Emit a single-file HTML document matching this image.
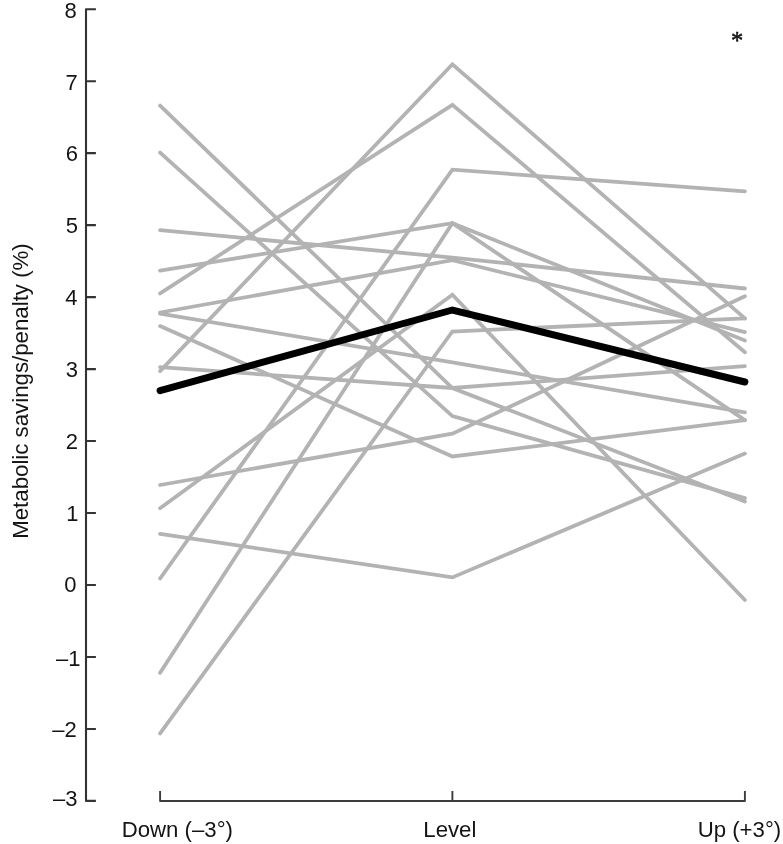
<!DOCTYPE html>
<html lang="en">
<head>
<meta charset="utf-8">
<title>Metabolic savings/penalty by slope</title>
<style>
html,body{margin:0;padding:0;background:#fff;}
body{width:783px;height:844px;overflow:hidden;}
svg{display:block;}
text{font-family:"Liberation Sans",sans-serif;fill:#141414;}
.g{fill:none;stroke:#b3b3b3;stroke-width:3.8;stroke-linecap:round;stroke-linejoin:miter;stroke-miterlimit:10;}
.k{fill:none;stroke:#000;stroke-width:7;stroke-linecap:round;stroke-linejoin:miter;stroke-miterlimit:10;}
.ax{fill:none;stroke:#333;stroke-width:2.1;stroke-linecap:butt;stroke-linejoin:round;}
.ax2{fill:none;stroke:#3c3c3c;stroke-width:1.9;stroke-linecap:butt;stroke-linejoin:round;}
</style>
</head>
<body>
<svg width="783" height="844" viewBox="0 0 783 844">
<rect x="0" y="0" width="783" height="844" fill="#fff"/>

<g class="g">
<polyline points="160.1,371.1 452.4,64.3 744.9,318.4"/>
<polyline points="160.1,293.4 452.4,104.8 744.9,352.3"/>
<polyline points="160.1,578.5 452.4,169.7 744.9,191.3"/>
<polyline points="160.1,672.8 452.4,223.2 744.9,420.2"/>
<polyline points="160.1,270.6 452.4,223.2 744.9,340.6"/>
<polyline points="160.1,230.2 452.4,257.6 744.9,288.5"/>
<polyline points="160.1,312.5 452.4,260.2 744.9,332.1"/>
<polyline points="160.1,508.2 452.4,294.8 744.9,600.0"/>
<polyline points="160.1,733.4 452.4,331.5 744.9,318.4"/>
<polyline points="160.1,313.7 452.4,362.4 744.9,412.4"/>
<polyline points="160.1,105.6 452.4,388.0 744.9,501.5"/>
<polyline points="160.1,367.1 452.4,388.0 744.9,366.1"/>
<polyline points="160.1,152.6 452.4,416.1 744.9,498.2"/>
<polyline points="160.1,485.0 452.4,433.7 744.9,296.3"/>
<polyline points="160.1,326.1 452.4,456.5 744.9,420.2"/>
<polyline points="160.1,533.9 452.4,577.4 744.9,453.6"/>
</g>
<polyline class="k" points="160.1,390.6 452.4,310.0 744.9,382.0"/>
<path class="ax" d="M95.9,9.23 H86.0 V800.90 H95.9 M86.0,728.93 H95.9 M86.0,656.96 H95.9 M86.0,584.99 H95.9 M86.0,513.02 H95.9 M86.0,441.05 H95.9 M86.0,369.08 H95.9 M86.0,297.11 H95.9 M86.0,225.14 H95.9 M86.0,153.17 H95.9 M86.0,81.20 H95.9"/>
<path class="ax2" d="M160.1,790.9 V801.0 H744.9 V790.9 M452.4,801.0 V790.9"/>
<text x="76.80" y="17.68" font-size="22.0" text-anchor="end">8</text>
<text x="77.70" y="90.10" font-size="22.0" text-anchor="end">7</text>
<text x="77.98" y="160.97" font-size="22.0" text-anchor="end">6</text>
<text x="77.94" y="233.29" font-size="22.0" text-anchor="end">5</text>
<text x="77.56" y="304.51" font-size="22.0" text-anchor="end">4</text>
<text x="78.00" y="376.68" font-size="22.0" text-anchor="end">3</text>
<text x="77.92" y="448.85" font-size="22.0" text-anchor="end">2</text>
<text x="78.60" y="520.52" font-size="22.0" text-anchor="end">1</text>
<text x="76.46" y="591.64" font-size="22.0" text-anchor="end">0</text>
<text x="80.45" y="665.76" font-size="22.0" text-anchor="end">–1</text>
<text x="76.77" y="736.73" font-size="22.0" text-anchor="end">–2</text>
<text x="77.60" y="806.45" font-size="22.0" text-anchor="end">–3</text>
<text x="121.7" y="836.5" font-size="22.2">Down (–3°)</text>
<text x="423.3" y="836.5" font-size="22.2">Level</text>
<text x="697.7" y="836.5" font-size="22.2">Up (+3°)</text>
<text transform="translate(28.2,538.8) rotate(-90)" font-size="22.25">Metabolic savings/penalty (%)</text>
<text x="731.0" y="48.6" font-size="24.5" font-weight="normal" style="font-family:'Liberation Serif',serif;fill:#111;stroke:#111;stroke-width:0.5">*</text>
</svg>
</body>
</html>
